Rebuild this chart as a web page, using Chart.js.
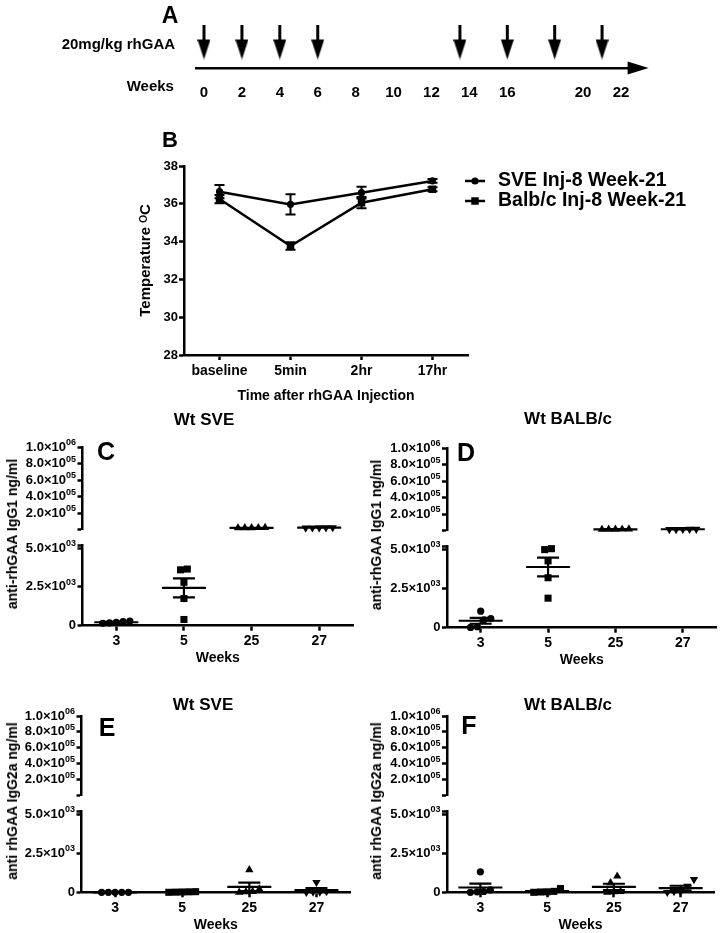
<!DOCTYPE html>
<html><head><meta charset="utf-8">
<script src="https://cdn.jsdelivr.net/npm/chart.js@4/dist/chart.umd.min.js"></script>
<style>
html,body{margin:0;padding:0;background:#fff;}
#wrap{position:relative;width:722px;height:933px;background:#fff;overflow:hidden;font-family:"Liberation Sans",Arial,sans-serif;color:#000;}
canvas{position:absolute;}
.t{position:absolute;white-space:nowrap;font-weight:bold;line-height:1;}
</style></head><body><div id="wrap"></div>
<script>
// ---------------- DATA ----------------
// Panel A: injection schedule
const doseWeeks = [0, 2, 4, 6, 13.5, 16, 18.5, 21];
const timelineTicks = [0, 2, 4, 6, 8, 10, 12, 14, 16, 20, 22];

// Panel B: body temperature
const tempTimes = ['baseline', '5min', '2hr', '17hr'];
const sveTemp = [36.64, 35.97, 36.59, 37.21];
const sveTempSem = [0.35, 0.53, 0.31, 0.1];
const balbTemp = [36.25, 33.77, 36.06, 36.77];
const balbTempSem = [0.22, 0.2, 0.3, 0.1];

// Panels C-F: antibody titres (ng/ml)
const weekCats = ['3', '5', '25', '27'];
const topTicks = [200000, 400000, 600000, 800000, 1000000];
const topTickLabels = ['2.0×10⁰⁵', '4.0×10⁰⁵', '6.0×10⁰⁵', '8.0×10⁰⁵', '1.0×10⁰⁶'];
const bottomTicks = [0, 2500, 5000];
const bottomTickLabels = ['0', '2.5×10⁰³', '5.0×10⁰³'];

const igg1Sve_w3 = [180, 260, 300, 220, 150];
const igg1Sve_w5 = [3650, 3600, 2800, 1750, 400];
const igg1Sve_w25 = [21000, 19000, 22000, 20000, 18000];
const igg1Sve_w27 = [22000, 20000, 21000, 19000, 23000];

const igg1Balb_w3 = [1050, 580, 500, 60, 20];
const igg1Balb_w5 = [5030, 4970, 4250, 3180, 1880];
const igg1Balb_w25 = [14000, 16000, 13000, 15000, 12000];
const igg1Balb_w27 = [15000, 13000, 16000, 14000, 12500];

const igg2aSve_w3 = [0, 0, 0, 0, 0];
const igg2aSve_w5 = [20, 40, 10, 30, 0];
const igg2aSve_w25 = [1435, 0, 30, 50, 210];
const igg2aSve_w27 = [640, 50, 30, 20, 0];

const igg2aBalb_w3 = [1310, 0, 50, 30, 150];
const igg2aBalb_w5 = [240, 60, 30, 0, 20];
const igg2aBalb_w25 = [1030, 600, 0, 50, 30];
const igg2aBalb_w27 = [820, 390, 50, 0, 50];

// ---------------- SETUP ----------------
const FONT = '"Liberation Sans", Arial, sans-serif';
Chart.defaults.font.family = FONT;
Chart.defaults.font.weight = 'bold';
Chart.defaults.color = '#000';
Chart.defaults.animation = false;
Chart.defaults.responsive = false;
Chart.defaults.maintainAspectRatio = false;
Chart.defaults.devicePixelRatio = 1;
Chart.defaults.plugins.legend.display = false;
Chart.defaults.plugins.tooltip.enabled = false;

const wrap = document.getElementById('wrap');
function mkCanvas(left, top, w, h) {
  const c = document.createElement('canvas');
  c.width = w; c.height = h;
  c.style.left = left + 'px'; c.style.top = top + 'px';
  c.style.width = w + 'px'; c.style.height = h + 'px';
  wrap.appendChild(c);
  return c;
}
function txt(s, x, y, size, opts) {
  opts = opts || {};
  const d = document.createElement('div');
  d.className = 't';
  d.textContent = s;
  d.style.fontSize = size + 'px';
  d.style.left = x + 'px'; d.style.top = y + 'px';
  let tr = opts.anchor === 'left' ? 'translate(0,-50%)' : 'translate(-50%,-50%)';
  if (opts.rotate) tr += ' rotate(-90deg)';
  d.style.transform = tr;
  wrap.appendChild(d);
}
const AX = { display: true, color: '#000', width: 2.5 };

// ---------------- PANEL A ----------------
function arrowImage() {
  const c = document.createElement('canvas'); c.width = 13; c.height = 35;
  const g = c.getContext('2d'); g.fillStyle = '#000';
  g.fillRect(5, 0, 3, 17);
  g.beginPath(); g.moveTo(0, 15); g.lineTo(13, 15); g.lineTo(6.5, 35); g.closePath(); g.fill();
  return c;
}
const axisArrowPlugin = {
  id: 'axisArrow',
  afterDraw(chart) {
    const { ctx, chartArea } = chart; const y = chartArea.bottom;
    ctx.save(); ctx.fillStyle = '#000'; ctx.beginPath();
    ctx.moveTo(chartArea.right - 1, y - 6.5); ctx.lineTo(chartArea.right + 20, y);
    ctx.lineTo(chartArea.right - 1, y + 6.5); ctx.closePath(); ctx.fill(); ctx.restore();
  }
};
const arrowImg = arrowImage();
new Chart(mkCanvas(0, 0, 722, 100), {
  type: 'scatter',
  data: { datasets: [{ data: doseWeeks.map(w => ({ x: w, y: 0 })), pointStyle: arrowImg, pointRadius: 6, clip: false }] },
  options: {
    layout: { padding: { left: 196.4, right: 93.4, top: 16, bottom: 0 } },
    scales: {
      x: {
        type: 'linear', min: -0.4, max: 22.4,
        afterBuildTicks: s => { s.ticks = timelineTicks.map(v => ({ value: v })); },
        afterFit: s => { s.height = 32; },
        grid: { display: false }, border: AX,
        ticks: { font: { size: 15, weight: 'bold' }, padding: 8, autoSkip: false, maxRotation: 0, callback: v => String(v) }
      },
      y: { display: false, min: -1, max: 1 }
    }
  },
  plugins: [axisArrowPlugin]
});
txt('A', 170, 15, 23);
txt('20mg/kg rhGAA', 61.7, 43, 15, { anchor: 'left' });
txt('Weeks', 126.7, 85, 15, { anchor: 'left' });

// ---------------- PANEL B ----------------
const lineErrPlugin = {
  id: 'lineErr',
  afterDatasetsDraw(chart) {
    const { ctx } = chart; const ys = chart.scales.y;
    ctx.save(); ctx.strokeStyle = '#000'; ctx.lineWidth = 2;
    chart.data.datasets.forEach((ds, di) => {
      chart.getDatasetMeta(di).data.forEach((el, i) => {
        const v = ds.data[i], e = ds.sem[i];
        const y1 = ys.getPixelForValue(v + e), y2 = ys.getPixelForValue(v - e);
        ctx.beginPath();
        ctx.moveTo(el.x, y1); ctx.lineTo(el.x, y2);
        ctx.moveTo(el.x - 5, y1); ctx.lineTo(el.x + 5, y1);
        ctx.moveTo(el.x - 5, y2); ctx.lineTo(el.x + 5, y2);
        ctx.stroke();
      });
    });
    ctx.restore();
  }
};
const tempLegendPlugin = {
  id: 'tempLegend',
  afterDraw(chart) {
    const { ctx, chartArea } = chart;
    chart.data.datasets.forEach((ds, i) => {
      const y = chartArea.top + 15 + i * 20;
      const x0 = chartArea.right - 3;
      ctx.save();
      ctx.strokeStyle = '#000'; ctx.fillStyle = '#000'; ctx.lineWidth = 2.5;
      ctx.beginPath(); ctx.moveTo(x0, y); ctx.lineTo(x0 + 20, y); ctx.stroke();
      Chart.helpers.drawPoint(ctx, { pointStyle: ds.pointStyle, radius: ds.pointRadius, rotation: 0, borderWidth: 0 }, x0 + 10, y);
      ctx.font = 'bold 19.5px ' + FONT; ctx.textBaseline = 'middle'; ctx.textAlign = 'left';
      ctx.fillText(ds.label, x0 + 33, y);
      ctx.restore();
    });
  }
};
new Chart(mkCanvas(100, 120, 622, 300), {
  type: 'line',
  data: {
    labels: tempTimes,
    datasets: [
      { label: 'SVE Inj-8 Week-21', data: sveTemp, sem: sveTempSem, borderColor: '#000', backgroundColor: '#000', borderWidth: 2.5, pointStyle: 'circle', pointRadius: 3.6, pointBackgroundColor: '#000', pointBorderWidth: 0, tension: 0 },
      { label: 'Balb/c Inj-8 Week-21', data: balbTemp, sem: balbTempSem, borderColor: '#000', backgroundColor: '#000', borderWidth: 2.5, pointStyle: 'rect', pointRadius: 5.3, pointBackgroundColor: '#000', pointBorderWidth: 0, tension: 0 }
    ]
  },
  options: {
    layout: { padding: { left: 37, top: 46, right: 254, bottom: 0 } },
    scales: {
      x: {
        offset: true,
        grid: { display: true, drawOnChartArea: false, drawTicks: true, tickLength: 5, tickWidth: 2.5, color: '#000', offset: false },
        border: AX,
        ticks: { font: { size: 14, weight: 'bold' }, padding: 3, maxRotation: 0, autoSkip: false },
        title: { display: true, text: 'Time after rhGAA Injection', font: { size: 14, weight: 'bold' }, padding: { top: 0, bottom: 15 } },
        afterFit: s => { s.height = 65; }
      },
      y: {
        min: 28, max: 38,
        ticks: { stepSize: 2, font: { size: 13, weight: 'bold' }, padding: 1 },
        grid: { drawOnChartArea: false, tickLength: 5, tickWidth: 2.5, color: '#000' },
        border: AX,
        title: { display: true, text: 'Temperature ᴼC', font: { size: 15, weight: 'bold' }, padding: 0 },
        afterFit: s => { s.width = 47; }
      }
    }
  },
  plugins: [lineErrPlugin, tempLegendPlugin]
});
txt('B', 170, 140, 22);

// ---------------- PANELS C-F ----------------
const catStyles = ['circle', 'rect', 'triangle', 'triangle'];
const catRotation = [0, 0, 0, 180];
const catRadius = [3.6, 5, 4.8, 4.8];
const BOT_MAX = 5200, TOP_MAX = 1000000;
const SUP = '⁰¹²³⁴⁵⁶⁷⁸⁹';

function stats(vals) {
  const n = vals.length, m = vals.reduce((a, b) => a + b, 0) / n;
  const sd = Math.sqrt(vals.reduce((a, b) => a + (b - m) * (b - m), 0) / (n - 1));
  return { mean: m, sem: sd / Math.sqrt(n) };
}
function spreadOffsets(vals, thr) {
  const off = new Array(vals.length).fill(0);
  if (!vals.length) return off;
  const idx = vals.map((v, i) => i).sort((a, b) => vals[a] - vals[b]);
  let cl = [idx[0]];
  const flush = () => cl.forEach((k, j) => { off[k] = (j - (cl.length - 1) / 2) * 0.1; });
  for (let j = 1; j < idx.length; j++) {
    if (vals[idx[j]] - vals[idx[j - 1]] < thr) cl.push(idx[j]); else { flush(); cl = [idx[j]]; }
  }
  flush();
  return off;
}
function meanSemPlugin(list) {
  return {
    id: 'meanSem',
    afterDatasetsDraw(chart) {
      const { ctx } = chart; const xs = chart.scales.x, ys = chart.scales.y;
      ctx.save(); ctx.strokeStyle = '#000'; ctx.lineWidth = 2.2;
      list.forEach(s => {
        const x = xs.getPixelForValue(s.x);
        const ym = ys.getPixelForValue(s.mean);
        const yt = ys.getPixelForValue(s.mean + s.sem);
        const yb = ys.getPixelForValue(Math.max(s.mean - s.sem, ys.min));
        ctx.beginPath();
        ctx.moveTo(x - 22, ym); ctx.lineTo(x + 22, ym);
        ctx.moveTo(x, yt); ctx.lineTo(x, yb);
        ctx.moveTo(x - 11, yt); ctx.lineTo(x + 11, yt);
        ctx.moveTo(x - 11, yb); ctx.lineTo(x + 11, yb);
        ctx.stroke();
      });
      ctx.restore();
    }
  };
}
// draws tick labels like 1.0×10⁰⁶ with a real raised, smaller exponent
function sciLabelPlugin(tickVals, tickLabels) {
  return {
    id: 'sciLabels',
    afterDraw(chart) {
      const { ctx } = chart; const ys = chart.scales.y;
      ctx.save(); ctx.fillStyle = '#000'; ctx.textBaseline = 'middle'; ctx.textAlign = 'right';
      tickVals.forEach((v, i) => {
        const s = tickLabels[i];
        let cut = s.length;
        for (let k = 0; k < s.length; k++) { if (SUP.indexOf(s[k]) >= 0) { cut = k; break; } }
        const base = s.slice(0, cut);
        const exp = s.slice(cut).split('').map(ch => String(SUP.indexOf(ch))).join('');
        const y = ys.getPixelForValue(v);
        let x = ys.right - 6.5;
        if (exp) {
          ctx.font = 'bold 9px ' + FONT;
          ctx.fillText(exp, x, y - 4.5);
          x -= ctx.measureText(exp).width;
        }
        ctx.font = 'bold 13px ' + FONT;
        ctx.fillText(base, x, y);
      });
      ctx.restore();
    }
  };
}
function yAxis(min, max, tickVals, capVal) {
  return {
    type: 'linear', min: min, max: max,
    afterBuildTicks: s => { s.ticks = [capVal].concat(tickVals).map(v => ({ value: v })); },
    afterFit: s => { s.width = 80; },
    ticks: { display: false, autoSkip: false },
    grid: { drawOnChartArea: false, tickLength: 5, tickWidth: 2.5, color: '#000' },
    border: AX
  };
}
function dotPanel(g, groups) {
  const botPx = g.zeroY - g.botTop, topPx = g.topSegBottom - g.topSegTop;
  const topDs = [], botDs = [], topStats = [], botStats = [];
  groups.forEach((vals, i) => {
    const lo = vals.filter(v => v <= BOT_MAX), hi = vals.filter(v => v > BOT_MAX);
    const offLo = spreadOffsets(lo, 7 / botPx * BOT_MAX);
    const offHi = spreadOffsets(hi, 7 / topPx * (TOP_MAX - BOT_MAX));
    const style = { pointStyle: catStyles[i], rotation: catRotation[i], pointRadius: catRadius[i], backgroundColor: '#000', borderColor: '#000', borderWidth: 0, clip: false };
    botDs.push(Object.assign({ data: lo.map((v, k) => ({ x: i + offLo[k], y: v })) }, style));
    topDs.push(Object.assign({ data: hi.map((v, k) => ({ x: i + offHi[k], y: v })) }, style));
    const st = stats(vals);
    (st.mean > BOT_MAX ? topStats : botStats).push({ x: i, mean: st.mean, sem: st.sem });
  });
  const YW = 80;
  const leftT = Math.round(g.axisX - YW);
  const padL = g.axisX - YW - leftT;
  const wT = Math.ceil(g.axisEnd + 6 - leftT);
  // top segment
  const topC = Math.round(g.topSegTop - 12);
  const hT = Math.ceil(g.topSegBottom + 8 - topC);
  new Chart(mkCanvas(leftT, topC, wT, hT), {
    type: 'scatter',
    data: { datasets: topDs },
    options: {
      layout: { padding: { left: padL, right: leftT + wT - g.axisEnd, top: g.topSegTop - topC, bottom: topC + hT - g.topSegBottom } },
      scales: {
        x: { type: 'linear', display: false, min: -0.5, max: 3.5 },
        y: yAxis(BOT_MAX, TOP_MAX, topTicks, BOT_MAX)
      }
    },
    plugins: [meanSemPlugin(topStats), sciLabelPlugin(topTicks, topTickLabels)]
  });
  // bottom segment
  const XH = 41;
  const topB = Math.round(g.botTop - 10);
  const hB = Math.ceil(g.zeroY + XH - topB);
  new Chart(mkCanvas(leftT, topB, wT, hB), {
    type: 'scatter',
    data: { datasets: botDs },
    options: {
      layout: { padding: { left: padL, right: leftT + wT - g.axisEnd, top: g.botTop - topB, bottom: topB + hB - g.zeroY - XH } },
      scales: {
        x: {
          type: 'linear', min: -0.5, max: 3.5,
          afterBuildTicks: s => { s.ticks = weekCats.map((c, i) => ({ value: i })); },
          afterFit: s => { s.height = XH; },
          ticks: { autoSkip: false, maxRotation: 0, font: { size: 14, weight: 'bold' }, padding: 2, callback: v => (weekCats[v] !== undefined ? weekCats[v] : '') },
          grid: { drawOnChartArea: false, tickLength: 5, tickWidth: 2.5, color: '#000' },
          border: AX,
          title: { display: true, text: 'Weeks', font: { size: 14, weight: 'bold' }, padding: { top: 0, bottom: 0 } }
        },
        y: yAxis(0, BOT_MAX, bottomTicks, BOT_MAX)
      }
    },
    plugins: [meanSemPlugin(botStats), sciLabelPlugin(bottomTicks, bottomTickLabels)]
  });
  txt(g.title, g.titleX, g.titleY, 17);
  txt(g.letter, g.letterX, g.letterY, 25);
  txt(g.yTitle, g.yTitleX, g.yTitleY, 14, { rotate: true });
}

dotPanel({ axisX: 82.5, axisEnd: 353, topSegTop: 447.3, topSegBottom: 529, botTop: 545, zeroY: 625.7,
  title: 'Wt SVE', titleX: 204, titleY: 419, letter: 'C', letterX: 106, letterY: 451,
  yTitle: 'anti-rhGAA IgG1 ng/ml', yTitleX: 12, yTitleY: 534 },
  [igg1Sve_w3, igg1Sve_w5, igg1Sve_w25, igg1Sve_w27]);
dotPanel({ axisX: 447, axisEnd: 716.5, topSegTop: 448.3, topSegBottom: 530, botTop: 546, zeroY: 627.7,
  title: 'Wt BALB/c', titleX: 568, titleY: 418, letter: 'D', letterX: 466, letterY: 452,
  yTitle: 'anti-rhGAA IgG1 ng/ml', yTitleX: 376, yTitleY: 535 },
  [igg1Balb_w3, igg1Balb_w5, igg1Balb_w25, igg1Balb_w27]);
dotPanel({ axisX: 81.5, axisEnd: 350, topSegTop: 716, topSegBottom: 795, botTop: 811, zeroY: 892.3,
  title: 'Wt SVE', titleX: 203, titleY: 704, letter: 'E', letterX: 107, letterY: 727,
  yTitle: 'anti rhGAA IgG2a ng/ml', yTitleX: 12, yTitleY: 801 },
  [igg2aSve_w3, igg2aSve_w5, igg2aSve_w25, igg2aSve_w27]);
dotPanel({ axisX: 447, axisEnd: 714, topSegTop: 716, topSegBottom: 795, botTop: 811, zeroY: 892.3,
  title: 'Wt BALB/c', titleX: 568, titleY: 704, letter: 'F', letterX: 469, letterY: 725,
  yTitle: 'anti rhGAA IgG2a ng/ml', yTitleX: 376, yTitleY: 801 },
  [igg2aBalb_w3, igg2aBalb_w5, igg2aBalb_w25, igg2aBalb_w27]);
</script>
</body></html>
